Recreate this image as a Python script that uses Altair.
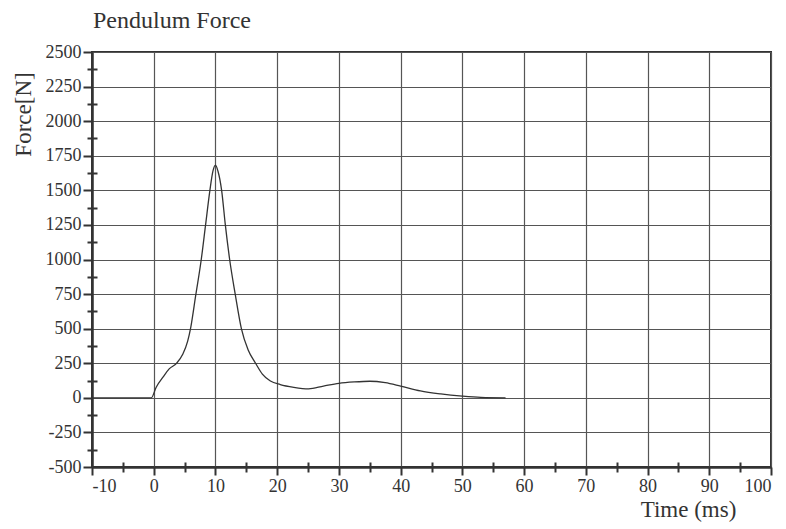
import altair as alt
import pandas as pd

# Curve (time in ms, force in N)
time_ms = [-10, -0.4, 0.4, 1.5, 2.5, 3.7, 4.7, 5.5, 6.0, 6.8, 7.7, 8.4, 9.1, 9.6, 10.0,
           10.4, 11.0, 11.6, 12.3, 13.2, 14.2, 15.3, 16.5, 17.6, 18.9, 20.5, 22.7,
           25.1, 27.5, 30, 32.5, 35, 37.5, 40, 43.2, 46.5, 50, 53, 57]
force_n = [0, 0, 77, 149, 209, 250, 315, 410, 510, 740, 1000, 1250, 1500, 1640, 1682,
           1640, 1500, 1250, 1000, 750, 500, 345, 250, 172, 122, 96, 76,
           65, 85, 105, 115, 120, 110, 85, 50, 28, 12, 3, 0]

x_major = list(range(-10, 101, 10))
x_minor = list(range(-5, 100, 10))
y_major = list(range(-500, 2501, 250))
y_minor = [v + 125 for v in range(-500, 2500, 250)]

title_text = "Pendulum Force"
x_title = "Time (ms)"
y_title = "Force[N]"

df = pd.DataFrame({"t": time_ms, "f": force_n})

FONT = "Liberation Serif"
INK = "#333333"

xs = alt.Scale(domain=[-10, 100], nice=False, zero=False)
ys = alt.Scale(domain=[-500, 2500], nice=False, zero=False)

line = alt.Chart(df).mark_line(color=INK, strokeWidth=1.3, interpolate="monotone").encode(
    x=alt.X("t:Q", scale=xs, axis=alt.Axis(
        values=x_major, orient="bottom", grid=True, tickSize=8, labelPadding=2,
        labelExpr="'' + datum.value",
        title=x_title, titleX=596, titleY=49, titleAlign="center", titleBaseline="alphabetic",
        titleFont=FONT, titleFontSize=23, titleFontWeight="normal", titleColor=INK)),
    y=alt.Y("f:Q", scale=ys, axis=alt.Axis(
        values=y_major, orient="left", grid=True, tickSize=9, labelPadding=2,
        labelExpr="'' + datum.value",
        title=y_title, titleX=-62, titleY=62, titleAngle=270, titleAlign="center",
        titleBaseline="alphabetic",
        titleFont=FONT, titleFontSize=23, titleFontWeight="normal", titleColor=INK)),
)

minor = alt.Chart(df).mark_line(opacity=0).encode(
    x=alt.X("t:Q", scale=xs, axis=alt.Axis(
        values=x_minor, orient="bottom", offset=-5, tickSize=10, labels=False,
        domain=False, grid=False, title=None)),
    y=alt.Y("f:Q", scale=ys, axis=alt.Axis(
        values=y_minor, orient="left", offset=-5, tickSize=10, labels=False,
        domain=False, grid=False, title=None)),
)

chart = alt.layer(line, minor).resolve_axis(x="independent", y="independent").properties(
    width=679,
    height=415,
    background="white",
    title=alt.TitleParams(title_text, anchor="start", frame="group", font=FONT, fontSize=24,
                          fontWeight="normal", color=INK, offset=10, dx=1),
    autosize=alt.AutoSizeParams(type="none"),
    padding={"left": 84, "top": 44, "right": 7, "bottom": 57},
).configure_view(
    stroke=INK, strokeWidth=2
).configure_axis(
    domainColor=INK, domainWidth=2.5, tickColor=INK, tickWidth=2,
    gridColor="#555555", gridWidth=1.2, gridOpacity=1,
    labelFont=FONT, labelFontSize=18, labelColor=INK,
)

chart.save("out.html", embed_options={"renderer": "svg", "actions": False})
